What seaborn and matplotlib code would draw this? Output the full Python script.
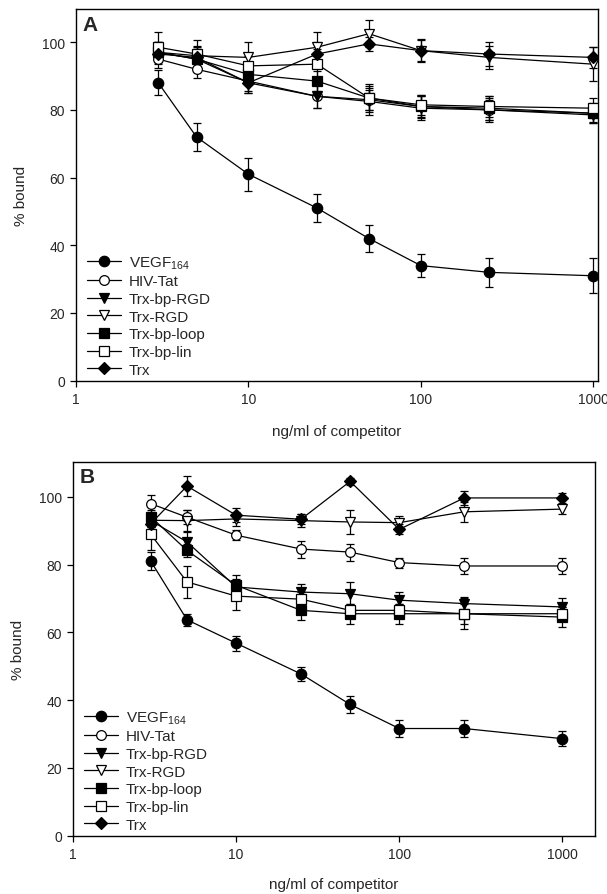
import matplotlib
matplotlib.use("Agg")
import matplotlib.pyplot as plt
import seaborn as sns
import numpy as np
import pandas as pd
from matplotlib.ticker import FixedLocator, FixedFormatter, NullLocator

# ---------------- data ----------------
conc = [3, 5, 10, 25, 50, 100, 250, 1000]
series_names = ["VEGF$_{164}$", "HIV-Tat", "Trx-bp-RGD", "Trx-RGD",
                "Trx-bp-loop", "Trx-bp-lin", "Trx"]

# Panel A values (% bound) and error bars
a_vegf = [88, 72, 61, 51, 42, 34, 32, 31]
a_vegf_err = [3.7, 4.0, 4.9, 4.2, 4.0, 3.4, 4.2, 5.2]
a_hiv = [95, 92, 88.5, 84, 83, 81, 80, 79]
a_hiv_err = [2.5, 2.5, 3.0, 3.5, 3.0, 3.0, 3.0, 2.5]
a_bprgd = [97, 95, 88, 84, 82.5, 80.5, 80, 78.5]
a_bprgd_err = [3.0, 3.0, 3.0, 3.5, 4.0, 3.5, 3.5, 2.5]
a_rgd = [97, 96, 95.5, 98.5, 102.5, 97.5, 95.5, 93.5]
a_rgd_err = [3.0, 3.0, 4.5, 4.5, 4.0, 3.5, 3.5, 5.0]
a_loop = [97, 95, 90.5, 88.5, 83.5, 81, 80.5, 79]
a_loop_err = [3.0, 3.0, 3.0, 3.0, 4.0, 3.5, 3.5, 3.0]
a_lin = [98.5, 96.5, 93, 93.5, 83.5, 81.5, 81, 80.5]
a_lin_err = [4.5, 4.0, 3.0, 4.5, 3.5, 3.0, 3.0, 3.0]
a_trx = [96.5, 95.5, 88, 96.5, 99.5, 97.5, 96.5, 95.5]
a_trx_err = [3.0, 3.0, 3.0, 3.5, 2.0, 3.0, 3.5, 3.0]

# Panel B values (% bound) and error bars
b_vegf = [81, 63.7, 56.8, 47.7, 38.7, 31.6, 31.6, 28.6]
b_vegf_err = [2.7, 1.8, 2.2, 2.2, 2.6, 2.6, 2.6, 2.2]
b_hiv = [98, 94, 88.7, 84.6, 83.7, 80.6, 79.6, 79.6]
b_hiv_err = [2.5, 2.0, 1.5, 2.5, 2.5, 1.5, 2.5, 2.5]
b_bprgd = [93, 86.7, 73.4, 71.9, 71.4, 69.5, 68.5, 67.5]
b_bprgd_err = [2.0, 3.0, 2.5, 2.5, 3.5, 2.5, 2.0, 2.5]
b_rgd = [93.1, 93, 93.5, 93, 92.6, 92.4, 95.6, 96.4]
b_rgd_err = [2.0, 3.0, 2.0, 2.0, 3.5, 2.0, 3.0, 1.5]
b_loop = [94.1, 84.2, 73.9, 66.5, 65.5, 65.5, 65.5, 64.5]
b_loop_err = [2.0, 2.0, 3.0, 3.0, 3.0, 3.0, 3.0, 3.0]
b_lin = [88.9, 74.9, 70.7, 69.8, 66.5, 66.5, 65.5, 65.5]
b_lin_err = [4.5, 4.8, 4.0, 2.0, 2.0, 2.0, 4.5, 2.0]
b_trx = [92.1, 103.2, 94.6, 93.4, 104.6, 90.4, 99.7, 99.7]
b_trx_err = [2.0, 3.0, 2.0, 1.5, 1.0, 1.5, 2.0, 1.5]

y_ticks = [0, 20, 40, 60, 80, 100]
x_ticks = [1, 10, 100, 1000]
x_tick_labels = ["1", "10", "100", "1000"]

# ---------------- style ----------------
sns.set_style("ticks")
plt.rcParams["font.family"] = ["Liberation Sans", "DejaVu Sans"]
plt.rcParams["mathtext.default"] = "regular"

styles = [
    dict(marker="o", mfc="black", ms=7.5),
    dict(marker="o", mfc="white", ms=7),
    dict(marker="v", mfc="black", ms=7.5),
    dict(marker="v", mfc="white", ms=7.5),
    dict(marker="s", mfc="black", ms=6.5),
    dict(marker="s", mfc="white", ms=6.5),
    dict(marker="D", mfc="black", ms=6.5),
]

fig = plt.figure(figsize=(6.07, 8.95), dpi=100)
axA = fig.add_axes([76 / 607, 1 - 381.7 / 895, 522 / 607, 371.7 / 895])
axB = fig.add_axes([73 / 607, 1 - 836.5 / 895, 522 / 607, 373.8 / 895])

panels = [
    (axA, "A", [a_vegf, a_hiv, a_bprgd, a_rgd, a_loop, a_lin, a_trx],
     [a_vegf_err, a_hiv_err, a_bprgd_err, a_rgd_err, a_loop_err, a_lin_err, a_trx_err],
     (1, 1065), (0, 109.8), 13),
    (axB, "B", [b_vegf, b_hiv, b_bprgd, b_rgd, b_loop, b_lin, b_trx],
     [b_vegf_err, b_hiv_err, b_bprgd_err, b_rgd_err, b_loop_err, b_lin_err, b_trx_err],
     (1, 1585), (0, 110.4), 12),
]

for ax, letter, vals, errs, xlim, ylim, xpad in panels:
    for name, v, e, st in zip(series_names, vals, errs, styles):
        df = pd.DataFrame({"conc": conc, "bound": v})
        ax.errorbar(conc, v, yerr=e, fmt="none", ecolor="black",
                    elinewidth=0.9, capsize=3, capthick=0.9, zorder=2)
        sns.lineplot(data=df, x="conc", y="bound", ax=ax, color="black",
                     linewidth=0.9, marker=st["marker"], markersize=st["ms"],
                     markerfacecolor=st["mfc"], markeredgecolor="black",
                     markeredgewidth=0.9, label=name, zorder=3)
    ax.set_xscale("log")
    ax.set_xlim(*xlim)
    ax.set_ylim(*ylim)
    ax.xaxis.set_major_locator(FixedLocator(x_ticks))
    ax.xaxis.set_major_formatter(FixedFormatter(x_tick_labels))
    ax.xaxis.set_minor_locator(NullLocator())
    ax.set_yticks(y_ticks)
    ax.tick_params(axis="both", labelsize=10, direction="out", length=4,
                   width=0.9, color="black", pad=4)
    for sp in ax.spines.values():
        sp.set_color("black")
        sp.set_linewidth(1.0)
    ax.set_xlabel("ng/ml of competitor", fontsize=11, labelpad=xpad)
    ax.set_ylabel("% bound", fontsize=11, labelpad=10)
    ax.text(0.012, 0.985, letter, transform=ax.transAxes, fontsize=15,
            fontweight="bold", ha="left", va="top")
    leg = ax.legend(loc="lower left", frameon=False, fontsize=11,
                    handlelength=2.2, handletextpad=0.5, labelspacing=0.24,
                    borderaxespad=0.0, bbox_to_anchor=(0.01, -0.006))

fig.savefig("out.png", dpi=100)
